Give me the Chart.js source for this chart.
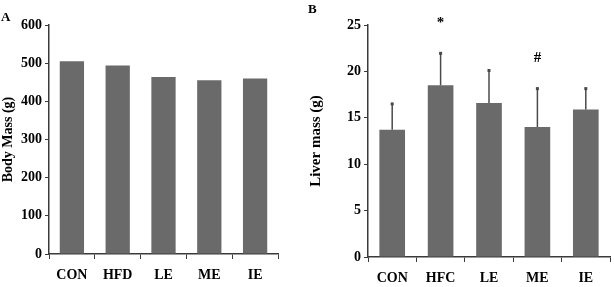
<!DOCTYPE html>
<html>
<head>
<meta charset="utf-8">
<script src="https://cdn.jsdelivr.net/npm/chart.js@4.4.0/dist/chart.umd.min.js"></script>
<style>
  html, body { margin: 0; padding: 0; background: #fff; }
  .fila { display: flex; width: 614px; height: 287px; }
  .panel { position: relative; width: 307px; height: 287px; }
</style>
</head>
<body>
<div class="fila">
  <div class="panel"><canvas id="chartA"></canvas></div>
  <div class="panel"><canvas id="chartB"></canvas></div>
</div>
<script>
// Datos panel A
const gruposA = ['CON', 'HFD', 'LE', 'ME', 'IE'];
const masaCorporal = [505, 494, 464, 455, 460];

// Datos panel B
const gruposB = ['CON', 'HFC', 'LE', 'ME', 'IE'];
const masaHigado = [13.7, 18.5, 16.6, 14.0, 15.9];
const errorHigado = [2.85, 3.5, 3.55, 4.2, 2.3];
const marcasB = ['', '*', '', '#', ''];

const fuente = "'Liberation Serif', 'Times New Roman', serif";
const colorBarra = '#6a6a6a';
const colorEje = '#3a3a3a';

// dibuja barras de error (solo hacia arriba) y las marcas de significancia
const pluginErrores = {
    id: 'errores',
    afterDatasetsDraw(chart, args, opts) {
        if (!opts.errores) return;
        const ctx = chart.ctx;
        const meta = chart.getDatasetMeta(0);
        const y = chart.scales.y;
        ctx.save();
        meta.data.forEach((bar, i) => {
            const val = chart.data.datasets[0].data[i];
            const yTop = y.getPixelForValue(val + opts.errores[i]);
            ctx.strokeStyle = '#4a4a4a';
            ctx.lineWidth = 1.5;
            ctx.beginPath();
            ctx.moveTo(bar.x, bar.y);
            ctx.lineTo(bar.x, yTop);
            ctx.stroke();
            ctx.fillStyle = '#4a4a4a';
            ctx.fillRect(bar.x - 1.5, yTop - 1, 3, 3);
            if (opts.marcas && opts.marcas[i]) {
                ctx.fillStyle = '#000';
                ctx.font = 'bold 15px ' + fuente;
                ctx.textAlign = 'center';
                ctx.textBaseline = 'middle';
                ctx.fillText(opts.marcas[i], bar.x, yTop - 30);
            }
        });
        ctx.restore();
    }
};

const pluginLetra = {
    id: 'letra',
    afterDraw(chart, args, opts) {
        const ctx = chart.ctx;
        ctx.save();
        ctx.fillStyle = '#000';
        ctx.font = 'bold 13px ' + fuente;
        ctx.textAlign = 'left';
        ctx.textBaseline = 'middle';
        ctx.fillText(opts.texto, opts.x, opts.y);
        ctx.restore();
    }
};

function crearGrafico(id, cfg) {
    return new Chart(document.getElementById(id), {
        type: 'bar',
        data: {
            labels: cfg.labels,
            datasets: [{
                data: cfg.valores,
                backgroundColor: colorBarra,
                borderWidth: 0,
                categoryPercentage: 1,
                barPercentage: 0.53
            }]
        },
        options: {
            responsive: true,
            maintainAspectRatio: false,
            animation: false,
            layout: { padding: { top: cfg.top, right: cfg.right, left: 0, bottom: 0 } },
            plugins: {
                legend: { display: false },
                tooltip: { enabled: false },
                errores: { errores: cfg.errores, marcas: cfg.marcas },
                letra: { texto: cfg.letra, x: cfg.letraX, y: cfg.letraY }
            },
            scales: {
                x: {
                    grid: { display: true, drawOnChartArea: false, drawTicks: true, tickLength: 5, color: colorEje, offset: true },
                    border: { display: true, color: colorEje, width: 1.5 },
                    ticks: { color: '#000', padding: 8, font: { family: fuente, weight: 'bold', size: 14 } },
                    afterFit(scale) { scale.height = cfg.alturaX; }
                },
                y: {
                    min: 0,
                    max: cfg.max,
                    ticks: { stepSize: cfg.paso, color: '#000', padding: 3, font: { family: fuente, weight: 'bold', size: 14 } },
                    grid: { display: true, drawOnChartArea: false, drawTicks: true, tickLength: 4, color: colorEje },
                    border: { display: true, color: colorEje, width: 1.5 },
                    title: { display: true, text: cfg.tituloY, color: '#000', padding: { top: 0, bottom: 2 }, font: { family: fuente, weight: 'bold', size: cfg.tamTitulo } },
                    afterFit(scale) { scale.width = cfg.anchoY; }
                }
            }
        },
        plugins: [pluginErrores, pluginLetra]
    });
}

crearGrafico('chartA', {
    labels: gruposA, valores: masaCorporal, errores: null, marcas: null,
    max: 600, paso: 100, tituloY: 'Body Mass (g)', tamTitulo: 14,
    anchoY: 49, alturaX: 33, top: 25, right: 29,
    letra: 'A', letraX: 1, letraY: 18
});

crearGrafico('chartB', {
    labels: gruposB, valores: masaHigado, errores: errorHigado, marcas: marcasB,
    max: 25, paso: 5, tituloY: 'Liver mass (g)', tamTitulo: 15,
    anchoY: 61, alturaX: 30, top: 25, right: 4,
    letra: 'B', letraX: 1, letraY: 10
});
</script>
</body>
</html>
